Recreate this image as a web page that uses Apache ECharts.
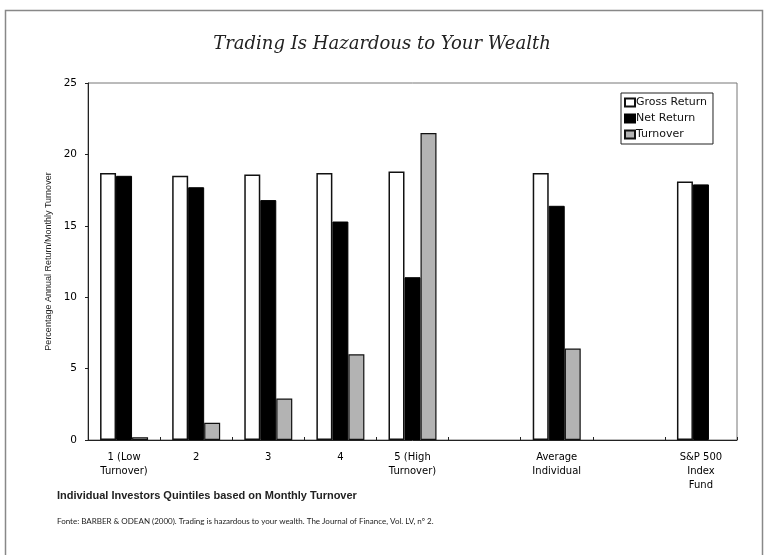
<!DOCTYPE html>
<html>
<head>
<meta charset="utf-8">
<script src="https://cdn.jsdelivr.net/npm/echarts@6/dist/echarts.min.js"></script>
<style>
  html, body { margin: 0; padding: 0; background: #fff; }
  #main { width: 764px; height: 555px; }
</style>
</head>
<body>
<div id="main"></div>
<script>
// categories (blank slots keep the gaps between groups)
var categories = ['1 (Low\nTurnover)', '2', '3', '4', '5 (High\nTurnover)', '', 'Average\nIndividual', '', 'S&P 500\nIndex\nFund'];
var grossReturn = [18.7, 18.5, 18.6, 18.7, 18.8, '-', 18.7, '-', 18.1];
var netReturn = [18.5, 17.7, 16.8, 15.3, 11.4, '-', 16.4, '-', 17.9];
var turnover = [0.2, 1.2, 2.9, 6.0, 21.5, '-', 6.4, '-', '-'];
var yTicks = [0, 5, 10, 15, 20, 25];

var dom = document.getElementById('main');
var myChart = echarts.init(dom);

var option = {
    animation: false,
    backgroundColor: '#fff',
    title: {
        text: 'Trading Is Hazardous to Your Wealth',
        left: 'center',
        top: 30,
        textStyle: {
            fontFamily: 'DejaVu Serif',
            fontStyle: 'italic',
            fontWeight: 'normal',
            fontSize: 18,
            color: '#222'
        }
    },
    legend: {
        orient: 'vertical',
        left: 621,
        top: 93,
        icon: 'rect',
        itemWidth: 10,
        itemHeight: 8,
        itemGap: 5,
        padding: [4, 6, 4, 3],
        borderColor: '#222',
        borderWidth: 1,
        textStyle: { fontFamily: 'DejaVu Sans', fontSize: 11, color: '#111', padding: [0, 0, 0, -4] },
        data: ['Gross Return', 'Net Return', 'Turnover']
    },
    grid: {
        left: 88,
        right: 27,
        top: 83,
        bottom: 115,
        show: true,
        borderColor: '#777',
        borderWidth: 1
    },
    xAxis: {
        type: 'category',
        data: categories,
        axisLine: { lineStyle: { color: '#222', width: 1 } },
        axisTick: { show: true, length: 3, inside: true, lineStyle: { color: '#222' } },
        axisLabel: {
            interval: 0,
            margin: 10,
            fontFamily: 'DejaVu Sans',
            fontSize: 10,
            color: '#000',
            lineHeight: 14
        }
    },
    yAxis: {
        type: 'value',
        min: 0,
        max: 25,
        interval: 5,
        name: 'Percentage Annual Return/Monthly Turnover',
        nameLocation: 'middle',
        nameGap: 23,
        nameTextStyle: { fontFamily: 'Arial, Liberation Sans', fontSize: 9, color: '#222' },
        splitLine: { show: false },
        axisLine: { show: true, lineStyle: { color: '#222' } },
        axisTick: { show: true, length: 3, lineStyle: { color: '#222' } },
        axisLabel: {
            margin: 11,
            fontFamily: 'DejaVu Sans',
            fontSize: 10.5,
            color: '#000',
            formatter: function (v) { return yTicks.indexOf(v) >= 0 ? String(v) : ''; }
        }
    },
    series: [
        {
            name: 'Gross Return',
            type: 'bar',
            barWidth: 16,
            barGap: '0%',
            data: grossReturn,
            itemStyle: { color: '#fff', borderColor: '#111', borderWidth: 1.5 }
        },
        {
            name: 'Net Return',
            type: 'bar',
            barWidth: 16,
            barGap: '0%',
            data: netReturn,
            itemStyle: { color: '#000', borderColor: '#000', borderWidth: 1 }
        },
        {
            name: 'Turnover',
            type: 'bar',
            barWidth: 16,
            barGap: '0%',
            data: turnover,
            itemStyle: { color: '#b3b3b3', borderColor: '#111', borderWidth: 1.2 }
        }
    ],
    graphic: [
        {
            type: 'rect',
            left: 3, top: 8,
            shape: { width: 757, height: 570 },
            style: { fill: 'none', stroke: '#888', lineWidth: 1.5 },
            silent: true
        },
        {
            type: 'text',
            left: 57, top: 490,
            style: {
                text: 'Individual Investors Quintiles based on Monthly Turnover',
                font: 'bold 11px Arial, Liberation Sans',
                fill: '#222'
            }
        },
        {
            type: 'text',
            left: 57, top: 517,
            style: {
                text: 'Fonte: BARBER & ODEAN (2000). Trading is hazardous to your wealth. The Journal of Finance, Vol. LV, nº 2.',
                font: '8px Lato, Arial',
                fill: '#222'
            }
        }
    ]
};

myChart.setOption(option);
</script>
</body>
</html>
